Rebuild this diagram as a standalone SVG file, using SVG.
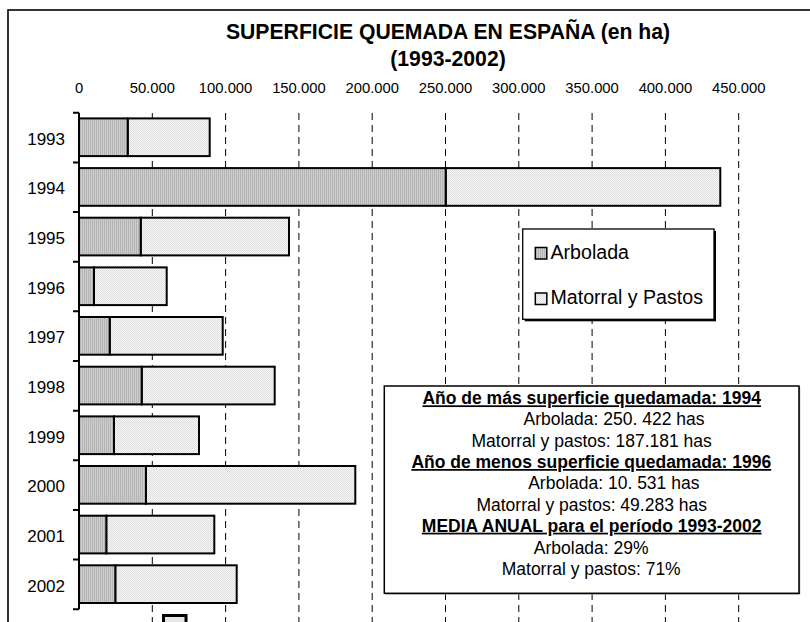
<svg xmlns="http://www.w3.org/2000/svg" width="810" height="622" viewBox="0 0 810 622">
<defs>
<pattern id="pArb" patternUnits="userSpaceOnUse" width="2" height="2">
<rect width="2" height="2" fill="#cdcdcd"/>
<rect width="1" height="2" fill="#b4b4b4"/>
</pattern>
<pattern id="pMat" patternUnits="userSpaceOnUse" width="2" height="2">
<rect width="2" height="2" fill="#f8f8f8"/>
<rect width="1" height="1" fill="#dcdcdc"/>
<rect x="1" y="1" width="1" height="1" fill="#dcdcdc"/>
</pattern>
<style>
text{font-family:"Liberation Sans",Arial,sans-serif;fill:#000}
.title{font-size:21.2px;font-weight:bold;text-anchor:middle}
.tick{font-size:14.8px;text-anchor:middle}
.year{font-size:17px;text-anchor:end}
.leg{font-size:19.6px}
.info{font-size:17.5px;text-anchor:middle}
.infob{font-size:17.5px;font-weight:bold;text-anchor:middle;text-decoration:underline}
.grid{stroke:#000;stroke-width:1;stroke-dasharray:7,5;fill:none}
.arb{fill:url(#pArb);stroke:#000;stroke-width:2}
.mat{fill:url(#pMat);stroke:#000;stroke-width:2}
.axis{stroke:#000;stroke-width:2;fill:none}
</style>
</defs>
<rect x="0" y="0" width="810" height="622" fill="#fff"/>
<rect id="frame" x="8" y="10" width="820" height="640" fill="#fff" stroke="#000" stroke-width="1.6"/>

<g id="title">
<text class="title" x="448" y="39">SUPERFICIE QUEMADA EN ESPAÑA (en ha)</text>
<text class="title" x="448" y="66">(1993-2002)</text>
</g>

<g id="xaxis-labels">
<text class="tick" x="79" y="93">0</text>
<text class="tick" x="152.3" y="93">50.000</text>
<text class="tick" x="225.6" y="93">100.000</text>
<text class="tick" x="298.9" y="93">150.000</text>
<text class="tick" x="372.2" y="93">200.000</text>
<text class="tick" x="445.5" y="93">250.000</text>
<text class="tick" x="518.8" y="93">300.000</text>
<text class="tick" x="592.1" y="93">350.000</text>
<text class="tick" x="665.4" y="93">400.000</text>
<text class="tick" x="738.7" y="93">450.000</text>
</g>

<g id="gridlines">
<line class="grid" x1="152.3" y1="113" x2="152.3" y2="622"/>
<line class="grid" x1="225.6" y1="113" x2="225.6" y2="622"/>
<line class="grid" x1="298.9" y1="113" x2="298.9" y2="622"/>
<line class="grid" x1="372.2" y1="113" x2="372.2" y2="622"/>
<line class="grid" x1="445.5" y1="113" x2="445.5" y2="622"/>
<line class="grid" x1="518.8" y1="113" x2="518.8" y2="622"/>
<line class="grid" x1="592.1" y1="113" x2="592.1" y2="622"/>
<line class="grid" x1="665.4" y1="113" x2="665.4" y2="622"/>
<line class="grid" x1="738.7" y1="113" x2="738.7" y2="622"/>
</g>

<g id="bars">
<g id="bar-1993"><rect class="mat" x="127.7" y="118.4" width="82" height="37.7"/><rect class="arb" x="79" y="118.4" width="48.7" height="37.7"/></g>
<g id="bar-1994"><rect class="mat" x="445.7" y="168.1" width="274.6" height="37.7"/><rect class="arb" x="79" y="168.1" width="366.7" height="37.7"/></g>
<g id="bar-1995"><rect class="mat" x="140.7" y="217.7" width="148.3" height="37.7"/><rect class="arb" x="79" y="217.7" width="61.7" height="37.7"/></g>
<g id="bar-1996"><rect class="mat" x="94" y="267.4" width="72.7" height="37.7"/><rect class="arb" x="79" y="267.4" width="15" height="37.7"/></g>
<g id="bar-1997"><rect class="mat" x="109.7" y="317" width="113" height="37.7"/><rect class="arb" x="79" y="317" width="30.7" height="37.7"/></g>
<g id="bar-1998"><rect class="mat" x="141.7" y="366.7" width="133" height="37.7"/><rect class="arb" x="79" y="366.7" width="62.7" height="37.7"/></g>
<g id="bar-1999"><rect class="mat" x="114" y="416.4" width="85" height="37.7"/><rect class="arb" x="79" y="416.4" width="35" height="37.7"/></g>
<g id="bar-2000"><rect class="mat" x="146" y="466" width="209.3" height="37.7"/><rect class="arb" x="79" y="466" width="67" height="37.7"/></g>
<g id="bar-2001"><rect class="mat" x="106.3" y="515.7" width="108" height="37.7"/><rect class="arb" x="79" y="515.7" width="27.3" height="37.7"/></g>
<g id="bar-2002"><rect class="mat" x="115.3" y="565.3" width="121.4" height="37.7"/><rect class="arb" x="79" y="565.3" width="36.3" height="37.7"/></g>
</g>

<g id="yaxis">
<line class="axis" x1="79" y1="112.7" x2="79" y2="609.3"/>
<path class="axis" d="M73 112.7H79M73 162.4H79M73 212H79M73 261.7H79M73 311.3H79M73 361H79M73 410.7H79M73 460.3H79M73 510H79M73 559.6H79M73 609.3H79"/>
<text class="year" x="65" y="144.7">1993</text>
<text class="year" x="65" y="194.4">1994</text>
<text class="year" x="65" y="244">1995</text>
<text class="year" x="65" y="293.7">1996</text>
<text class="year" x="65" y="343.3">1997</text>
<text class="year" x="65" y="393">1998</text>
<text class="year" x="65" y="442.7">1999</text>
<text class="year" x="65" y="492.3">2000</text>
<text class="year" x="65" y="542">2001</text>
<text class="year" x="65" y="591.6">2002</text>
</g>

<g id="legend">
<rect x="524.7" y="231" width="191.3" height="90.3" fill="#000"/>
<rect x="522.7" y="229" width="191.3" height="90.3" fill="#fff" stroke="#000" stroke-width="1.3"/>
<rect x="535.3" y="247.5" width="11.5" height="11.5" fill="url(#pArb)" stroke="#000" stroke-width="1.5"/>
<text class="leg" x="550.5" y="258.5">Arbolada</text>
<rect x="535.3" y="293" width="11.5" height="11.5" fill="url(#pMat)" stroke="#000" stroke-width="1.5"/>
<text class="leg" x="550.5" y="303.5">Matorral y Pastos</text>
</g>

<g id="info-box">
<rect x="385.5" y="387.2" width="414.7" height="207.3" fill="#888"/>
<rect x="384.3" y="386" width="414.7" height="207.3" fill="#fff" stroke="#000" stroke-width="1.5"/>
<text class="infob" x="591.7" y="404.3">Año de más superficie quedamada: 1994</text>
<text class="info" x="614" y="425.3">Arbolada: 250. 422 has</text>
<text class="info" x="591.7" y="446.5">Matorral y pastos: 187.181 has</text>
<text class="infob" x="591.3" y="468">Año de menos superficie quedamada: 1996</text>
<text class="info" x="613.8" y="489.3">Arbolada: 10. 531 has</text>
<text class="info" x="591.7" y="510.7">Matorral y pastos: 49.283 has</text>
<text class="infob" x="591.7" y="531.7">MEDIA ANUAL para el período 1993-2002</text>
<text class="info" x="591.2" y="553.5">Arbolada: 29%</text>
<text class="info" x="591.2" y="575">Matorral y pastos: 71%</text>
</g>

<rect id="bottom-box" x="163.5" y="615.5" width="22.5" height="14" fill="#e6e6e6" stroke="#000" stroke-width="3"/>
</svg>
